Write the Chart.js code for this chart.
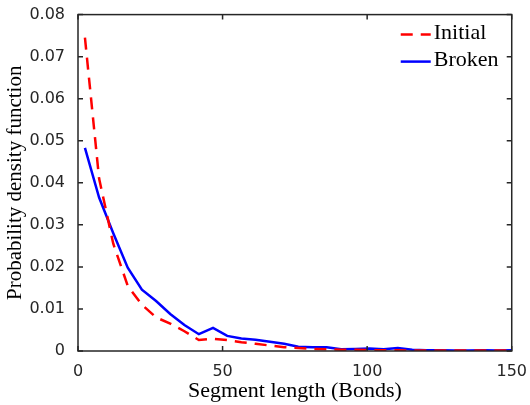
<!DOCTYPE html>
<html lang="en">

<head>
    <meta charset="UTF-8">
    <title>Segment length PDF</title>
    <script src="https://cdn.jsdelivr.net/npm/chart.js"></script>
    <style>
        body {
            margin: 0;
            background: #fff;
        }

        #chart-container {
            width: 530px;
            height: 405px;
        }
    </style>
</head>

<body>
    <div id="chart-container">
        <canvas id="pdfChart"></canvas>
    </div>

    <script>
        // bin centres (Bonds)
        const segLength = [2.4, 7.3, 12.2, 17.2, 22.1, 27.0, 31.9, 36.8, 41.8, 46.7, 51.6, 56.5, 61.4, 66.4, 71.3,
            76.2, 81.1, 86.0, 91.0, 95.9, 100.8, 105.7, 110.6, 115.6, 120.5, 125.4, 130.3, 135.2, 140.2, 145.1, 150.0];

        const initialPdf = [0.0745, 0.0410, 0.0255, 0.0155, 0.0110, 0.0080, 0.0065, 0.0047, 0.0026, 0.0029, 0.0026,
            0.0021, 0.0017, 0.0013, 0.0009, 0.0007, 0.0005, 0.0004, 0.0003, 0.0003, 0.0002, 0.0002, 0.0002, 0.0001,
            0.0001, 0.0001, 0.0001, 0.0001, 0.0001, 0.0001, 0.0001];

        const brokenPdf = [0.0483, 0.0365, 0.0280, 0.0198, 0.0146, 0.0119, 0.0088, 0.0062, 0.0040, 0.0055, 0.0036,
            0.0030, 0.0027, 0.0022, 0.0017, 0.0010, 0.0009, 0.0009, 0.0004, 0.0005, 0.0006, 0.0004, 0.0007, 0.0003,
            0.0002, 0.0002, 0.0001, 0.0001, 0.0002, 0.0001, 0.0002];

        const xTicks = [0, 50, 100, 150];
        const yTicks = [0, 0.01, 0.02, 0.03, 0.04, 0.05, 0.06, 0.07, 0.08];

        const axisColor = '#262626';
        const serif = '"Liberation Serif", "DejaVu Serif", serif';
        const sans = '"DejaVu Sans", Arial, sans-serif';

        function toPoints(xs, ys) {
            return xs.map((x, i) => ({ x: x, y: ys[i] }));
        }

        // MATLAB-like box with inward ticks on all four sides
        const boxPlugin = {
            id: 'boxPlugin',
            afterDraw(chart) {
                const ctx = chart.ctx;
                const a = chart.chartArea;
                const xs = chart.scales.x;
                const ys = chart.scales.y;
                const len = 5;
                ctx.save();
                ctx.strokeStyle = axisColor;
                ctx.lineWidth = 1.5;
                ctx.strokeRect(a.left, a.top, a.right - a.left, a.bottom - a.top);
                ctx.beginPath();
                xTicks.forEach(v => {
                    const px = xs.getPixelForValue(v);
                    ctx.moveTo(px, a.bottom); ctx.lineTo(px, a.bottom - len);
                    ctx.moveTo(px, a.top); ctx.lineTo(px, a.top + len);
                });
                yTicks.forEach(v => {
                    const py = ys.getPixelForValue(v);
                    ctx.moveTo(a.left, py); ctx.lineTo(a.left + len, py);
                    ctx.moveTo(a.right, py); ctx.lineTo(a.right - len, py);
                });
                ctx.stroke();
                ctx.restore();
            }
        };

        // legend inside the top-right corner
        const insideLegend = {
            id: 'insideLegend',
            afterDraw(chart) {
                const ctx = chart.ctx;
                const a = chart.chartArea;
                const x0 = a.right - 111;
                let y = a.top + 20;
                ctx.save();
                ctx.font = '22px ' + serif;
                ctx.textBaseline = 'middle';
                chart.data.datasets.forEach(ds => {
                    ctx.beginPath();
                    ctx.strokeStyle = ds.borderColor;
                    ctx.lineWidth = ds.borderWidth;
                    ctx.setLineDash(ds.borderDash || []);
                    ctx.moveTo(x0, y);
                    ctx.lineTo(x0 + 30, y);
                    ctx.stroke();
                    ctx.setLineDash([]);
                    ctx.fillStyle = '#000';
                    ctx.fillText(ds.label, x0 + 33, y - 1);
                    y += 27;
                });
                ctx.restore();
            }
        };

        const ctx = document.getElementById('pdfChart').getContext('2d');
        const pdfChart = new Chart(ctx, {
            type: 'line',
            data: {
                datasets: [{
                    label: 'Initial',
                    data: toPoints(segLength, initialPdf),
                    borderColor: '#ff0000',
                    borderWidth: 2.5,
                    borderDash: [12, 8],
                    pointRadius: 0,
                    tension: 0,
                    fill: false
                }, {
                    label: 'Broken',
                    data: toPoints(segLength, brokenPdf),
                    borderColor: '#0000ff',
                    borderWidth: 2.5,
                    pointRadius: 0,
                    tension: 0,
                    fill: false
                }]
            },
            plugins: [boxPlugin, insideLegend],
            options: {
                responsive: true,
                maintainAspectRatio: false,
                animation: false,
                layout: {
                    padding: { top: 13, right: 14, left: 0, bottom: 0 }
                },
                plugins: {
                    legend: { display: false },
                    tooltip: { enabled: false }
                },
                scales: {
                    x: {
                        type: 'linear',
                        min: 0,
                        max: 150,
                        afterBuildTicks(scale) {
                            scale.ticks = xTicks.map(v => ({ value: v }));
                        },
                        afterFit(scale) { scale.height = 54; },
                        grid: { display: false },
                        border: { display: false },
                        ticks: {
                            color: axisColor,
                            font: { family: sans, size: 16 },
                            padding: 3,
                            maxRotation: 0
                        },
                        title: {
                            display: true,
                            text: 'Segment length (Bonds)',
                            color: '#000',
                            font: { family: serif, size: 22 },
                            padding: { top: 0, bottom: 1 }
                        }
                    },
                    y: {
                        min: 0,
                        max: 0.08,
                        afterBuildTicks(scale) {
                            scale.ticks = yTicks.map(v => ({ value: v }));
                        },
                        afterFit(scale) { scale.width = 78; },
                        grid: { display: false },
                        border: { display: false },
                        ticks: {
                            color: axisColor,
                            font: { family: sans, size: 16 },
                            padding: 5,
                            callback: v => (v === 0 ? '0' : v.toFixed(2))
                        },
                        title: {
                            display: true,
                            text: 'Probability density function',
                            color: '#000',
                            font: { family: serif, size: 21 },
                            padding: { top: 3, bottom: 0 }
                        }
                    }
                }
            }
        });
    </script>
</body>

</html>
